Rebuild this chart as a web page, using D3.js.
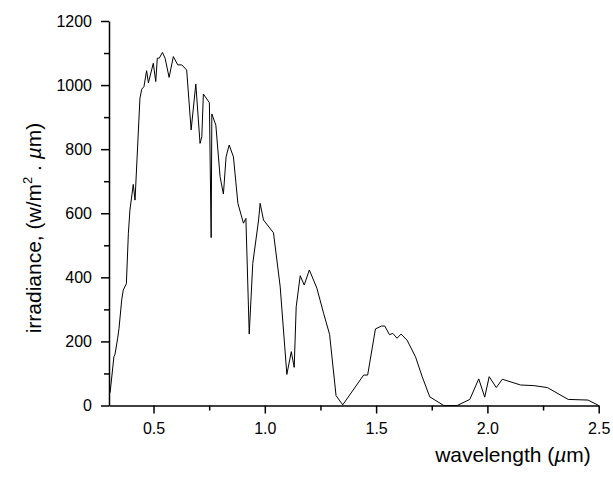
<!DOCTYPE html>
<html>
<head>
<meta charset="utf-8">
<script src="https://cdn.jsdelivr.net/npm/d3@7"></script>
<style>
  html, body { margin: 0; padding: 0; background: #fff; }
  svg { display: block; font-family: "Liberation Sans", Arial, sans-serif; }
</style>
</head>
<body>
<svg id="chart" width="613" height="477"></svg>
<script>
// Solar spectral irradiance: wavelength (µm) and irradiance (W/m²·µm)
const wavelength = [
  0.305, 0.322, 0.327, 0.339, 0.345, 0.357, 0.364, 0.378, 0.387, 0.394,
  0.409, 0.417, 0.439, 0.447, 0.457, 0.469, 0.477, 0.499, 0.510, 0.517,
  0.526, 0.540, 0.552, 0.570, 0.589, 0.609, 0.627, 0.649, 0.669, 0.690,
  0.709, 0.717, 0.724, 0.751, 0.759, 0.762, 0.780, 0.799, 0.814, 0.826,
  0.840, 0.859, 0.879, 0.904, 0.915, 0.930, 0.946, 0.972, 0.979, 0.994,
  1.039, 1.069, 1.099, 1.119, 1.132, 1.141, 1.159, 1.177, 1.200, 1.234,
  1.264, 1.291, 1.320, 1.350, 1.444, 1.462, 1.497, 1.524, 1.539, 1.560,
  1.575, 1.594, 1.612, 1.639, 1.677, 1.707, 1.741, 1.804, 1.864, 1.921,
  1.961, 1.988, 2.008, 2.040, 2.067, 2.149, 2.209, 2.269, 2.363, 2.452,
  2.500
];
const irradiance = [
  40, 152, 160, 210, 241, 329, 360, 380, 537, 610,
  690, 641, 959, 987, 995, 1045, 1007, 1068, 1011, 1084,
  1084, 1102, 1084, 1024, 1089, 1063, 1063, 1047, 860, 1003,
  818, 839, 972, 945, 524, 910, 875, 714, 660, 776,
  813, 776, 631, 569, 584, 223, 444, 579, 631, 579,
  539, 371, 97, 168, 119, 308, 405, 376, 423, 366,
  288, 222, 31, 2, 95, 95, 239, 248, 248, 221,
  225, 210, 223, 204, 152, 90, 27, 0, 0, 19,
  83, 26, 90, 56, 82, 64, 62, 56, 19, 17,
  0
];
const xTicks = [0.5, 1.0, 1.5, 2.0, 2.5];
const xMinorTicks = [0.75, 1.25, 1.75, 2.25];
const yTicks = [0, 200, 400, 600, 800, 1000, 1200];
const yMinorTicks = [100, 300, 500, 700, 900, 1100];

const svg = d3.select("#chart");
const plotLeft = 109, plotRight = 598.7, plotTop = 21, plotBottom = 405.5;

const x = d3.scaleLinear().domain([0.3, 2.5]).range([plotLeft, plotRight]);
const y = d3.scaleLinear().domain([0, 1200]).range([plotBottom, plotTop]);

// minor ticks
svg.append("g")
  .attr("transform", `translate(0,${plotBottom})`)
  .call(d3.axisBottom(x).tickValues(xMinorTicks).tickSize(5).tickFormat(""))
  .call(g => g.select(".domain").remove())
  .call(g => g.selectAll("line").attr("stroke", "#000").attr("stroke-width", 1.5));
svg.append("g")
  .attr("transform", `translate(${plotLeft},0)`)
  .call(d3.axisLeft(y).tickValues(yMinorTicks).tickSize(5).tickFormat(""))
  .call(g => g.select(".domain").remove())
  .call(g => g.selectAll("line").attr("stroke", "#000").attr("stroke-width", 1.5));

// major axes
const xAxis = svg.append("g")
  .attr("transform", `translate(0,${plotBottom})`)
  .call(d3.axisBottom(x).tickValues(xTicks).tickSize(8).tickSizeOuter(0).tickPadding(9)
    .tickFormat(d3.format(".1f")));
const yAxis = svg.append("g")
  .attr("transform", `translate(${plotLeft},0)`)
  .call(d3.axisLeft(y).tickValues(yTicks).tickSize(8).tickSizeOuter(0).tickPadding(9)
    .tickFormat(d3.format("d")));

[xAxis, yAxis].forEach(g => {
  g.select(".domain").attr("stroke", "#000").attr("stroke-width", 1.5);
  g.selectAll("line").attr("stroke", "#000").attr("stroke-width", 1.5);
  g.selectAll("text").attr("fill", "#000").attr("font-size", 16)
    .attr("font-family", "Liberation Sans, Arial, sans-serif");
});

// spectrum curve
const pts = wavelength.map((w, i) => [w, irradiance[i]]);
svg.append("path")
  .datum(pts)
  .attr("fill", "none")
  .attr("stroke", "#000")
  .attr("stroke-width", 1)
  .attr("stroke-linejoin", "miter")
  .attr("d", d3.line().x(d => x(d[0])).y(d => y(d[1])));

// axis titles
const xt = svg.append("text")
  .attr("x", 513).attr("y", 462)
  .attr("text-anchor", "middle")
  .attr("font-size", 21)
  .attr("fill", "#000");
xt.append("tspan").text("wavelength (");
xt.append("tspan").attr("font-style", "italic").text("µ");
xt.append("tspan").text("m)");

const yt = svg.append("text")
  .attr("transform", "translate(41,228) rotate(-90)")
  .attr("text-anchor", "middle")
  .attr("font-size", 21)
  .attr("fill", "#000");
yt.append("tspan").text("irradiance, (w/m");
yt.append("tspan").attr("font-size", 13).attr("dy", -9).text("2");
yt.append("tspan").attr("dy", 9).text(" . ");
yt.append("tspan").attr("font-style", "italic").text("µ");
yt.append("tspan").text("m)");
</script>
</body>
</html>
